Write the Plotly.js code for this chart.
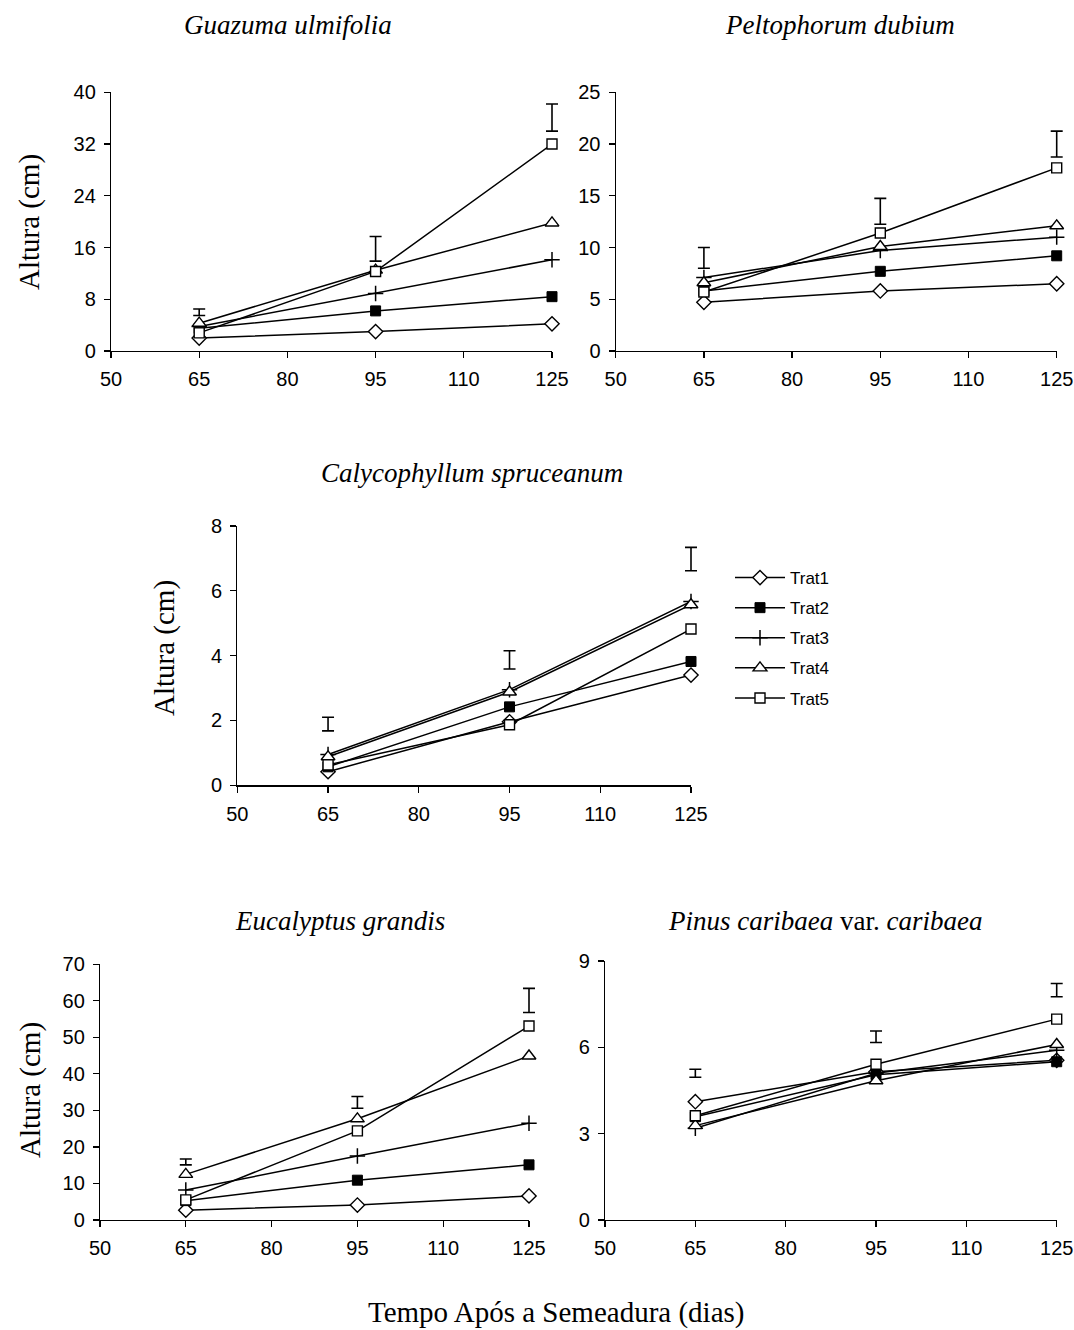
<!DOCTYPE html>
<html>
<head>
<meta charset="utf-8">
<script src="https://cdn.plot.ly/plotly-3.0.1.min.js"></script>
<style>html,body{margin:0;padding:0;background:#fff;} #chart{width:1074px;height:1330px;}</style>
</head>
<body>
<div id="chart"></div>
<script>
// ---- data ----
const days = [65, 95, 125];
const treatNames = ['Trat1', 'Trat2', 'Trat3', 'Trat4', 'Trat5'];
const xTicks = [50, 65, 80, 95, 110, 125];

// Guazuma ulmifolia
const guaT1 = [2.0, 3.0, 4.2];
const guaT2 = [3.5, 6.2, 8.4];
const guaT3 = [3.8, 8.9, 14.1];
const guaT4 = [4.3, 12.5, 19.8];
const guaT5 = [2.8, 12.3, 32.0];
const guaBarMid = [6.0, 15.8, 36.1];
const guaBarHalf = [0.5, 1.9, 2.1];

// Peltophorum dubium
const pelT1 = [4.7, 5.8, 6.5];
const pelT2 = [5.8, 7.7, 9.2];
const pelT3 = [7.1, 9.7, 11.0];
const pelT4 = [6.6, 10.1, 12.1];
const pelT5 = [5.7, 11.4, 17.7];
const pelBarMid = [9.0, 13.5, 20.0];
const pelBarHalf = [1.0, 1.25, 1.25];

// Calycophyllum spruceanum
const calT1 = [0.42, 1.96, 3.40];
const calT2 = [0.57, 2.42, 3.82];
const calT3 = [0.95, 2.95, 5.67];
const calT4 = [0.88, 2.88, 5.57];
const calT5 = [0.63, 1.87, 4.82];
const calBarMid = [1.89, 3.87, 6.98];
const calBarHalf = [0.21, 0.28, 0.36];

// Eucalyptus grandis
const eucT1 = [2.7, 4.1, 6.6];
const eucT2 = [5.3, 10.9, 15.1];
const eucT3 = [8.2, 17.5, 26.5];
const eucT4 = [12.5, 27.7, 44.9];
const eucT5 = [5.5, 24.4, 53.1];
const eucBarMid = [15.9, 32.2, 60.1];
const eucBarHalf = [0.8, 1.6, 3.3];

// Pinus caribaea var. caribaea
const pinT1 = [4.11, 5.15, 5.55];
const pinT2 = [3.59, 5.05, 5.50];
const pinT3 = [3.19, 5.10, 5.90];
const pinT4 = [3.28, 4.84, 6.10];
const pinT5 = [3.62, 5.41, 6.98];
const pinBarMid = [5.10, 6.37, 7.99];
const pinBarHalf = [0.14, 0.20, 0.23];

// ---- styles ----
const markerStyles = [
  {symbol: 'diamond', size: 11, color: '#fff', line: {color: '#000', width: 1.4}},
  {symbol: 'square', size: 10, color: '#000', line: {color: '#000', width: 1}},
  {symbol: 'cross-thin', size: 11, color: '#000', line: {color: '#000', width: 1.5}},
  {symbol: 'triangle-up', size: 12, color: '#fff', line: {color: '#000', width: 1.4}},
  {symbol: 'square', size: 10, color: '#fff', line: {color: '#000', width: 1.4}}
];

const panels = [
  {series: [guaT1, guaT2, guaT3, guaT4, guaT5], mid: guaBarMid, half: guaBarHalf,
   yrange: [0, 40], dtick: 8, xdom: [111, 552], ydom: [92.3, 351]},
  {series: [pelT1, pelT2, pelT3, pelT4, pelT5], mid: pelBarMid, half: pelBarHalf,
   yrange: [0, 25], dtick: 5, xdom: [615.7, 1056.7], ydom: [92.3, 351]},
  {series: [calT1, calT2, calT3, calT4, calT5], mid: calBarMid, half: calBarHalf,
   yrange: [0, 8], dtick: 2, xdom: [237.3, 691], ydom: [526, 785.3]},
  {series: [eucT1, eucT2, eucT3, eucT4, eucT5], mid: eucBarMid, half: eucBarHalf,
   yrange: [0, 70], dtick: 10, xdom: [100, 529], ydom: [964.3, 1220]},
  {series: [pinT1, pinT2, pinT3, pinT4, pinT5], mid: pinBarMid, half: pinBarHalf,
   yrange: [0, 9], dtick: 3, xdom: [605, 1056.7], ydom: [961, 1220]}
];

const W = 1074, H = 1330;
const XMIN = 50, XMAX = 125, EXTRA_PX = 14;
const traces = [];
const layout = {
  width: W, height: H,
  margin: {l: 0, r: 0, t: 0, b: 0},
  paper_bgcolor: '#fff', plot_bgcolor: 'rgba(0,0,0,0)',
  showlegend: true,
  legend: {
    x: 730 / W, y: 1 - 560 / H, xanchor: 'left', yanchor: 'top',
    font: {family: 'Liberation Sans, Arial, sans-serif', size: 17, color: '#000'},
    bgcolor: 'rgba(0,0,0,0)', traceorder: 'grouped', tracegroupgap: 5, itemwidth: 50
  },
  annotations: [],
  font: {family: 'Liberation Sans, Arial, sans-serif', color: '#000'}
};

const tickFont = {family: 'Liberation Sans, Arial, sans-serif', size: 20, color: '#000'};

panels.forEach((p, i) => {
  const n = i + 1;
  const xa = 'x' + n, ya = 'y' + n;
  const xdom = [p.xdom[0] / W, p.xdom[1] / W];
  const ydom = [1 - p.ydom[1] / H, 1 - p.ydom[0] / H];
  p.series.forEach((vals, k) => {
    traces.push({
      type: 'scatter', mode: 'lines+markers', x: days, y: vals,
      xaxis: xa, yaxis: ya, name: treatNames[k], legendgroup: treatNames[k],
      showlegend: i === 2,
      line: {color: '#000', width: 1.5},
      marker: markerStyles[k], cliponaxis: false
    });
  });
  // hidden axis pair (slightly wider to the right) so the error bars at day 125 are not clipped
  const pxPerUnit = (p.xdom[1] - p.xdom[0]) / (XMAX - XMIN);
  const eN = n + 10;
  traces.push({
    type: 'scatter', mode: 'markers', x: days, y: p.mid, xaxis: 'x' + eN, yaxis: 'y' + eN,
    showlegend: false, hoverinfo: 'skip', cliponaxis: false,
    marker: {size: 1, opacity: 0},
    error_y: {type: 'data', array: p.half, visible: true, width: 6, thickness: 1.6, color: '#000'}
  });
  layout['xaxis' + eN] = {
    domain: [p.xdom[0] / W, (p.xdom[1] + EXTRA_PX) / W],
    range: [XMIN, XMAX + EXTRA_PX / pxPerUnit], anchor: 'y' + eN, visible: false, fixedrange: true
  };
  layout['yaxis' + eN] = {
    domain: ydom, range: p.yrange, anchor: 'x' + eN, visible: false, fixedrange: true
  };

  const xBase = {
    domain: xdom, range: [XMIN, XMAX], tickvals: xTicks, anchor: ya,
    showgrid: false, zeroline: false, fixedrange: true
  };
  const yBase = {
    domain: ydom, range: p.yrange, dtick: p.dtick, tick0: 0, anchor: xa,
    showgrid: false, zeroline: false, fixedrange: true
  };
  layout['xaxis' + n] = Object.assign({}, xBase, {
    showline: true, linecolor: '#000', linewidth: 1.2,
    ticks: 'outside', ticklen: 6, tickwidth: 1.2, tickcolor: '#000',
    tickfont: tickFont, ticklabelstandoff: 4
  });
  layout['yaxis' + n] = Object.assign({}, yBase, {
    showline: true, linecolor: '#000', linewidth: 1.2,
    ticks: 'outside', ticklen: 6, tickwidth: 1.2, tickcolor: '#000',
    tickfont: tickFont, ticklabelstandoff: 4
  });
  // overlay axes to create crossing tick marks
  layout['xaxis' + (n + 5)] = Object.assign({}, xBase, {
    overlaying: xa, showline: false, ticks: 'inside', ticklen: 4, tickwidth: 1.2,
    tickcolor: '#000', showticklabels: false
  });
  layout['yaxis' + (n + 5)] = Object.assign({}, yBase, {
    overlaying: ya, showline: false, ticks: 'inside', ticklen: 4, tickwidth: 1.2,
    tickcolor: '#000', showticklabels: false
  });
});

const serif = 'Liberation Serif, Times New Roman, serif';
function ann(text, px, py, size, angle) {
  layout.annotations.push({
    text: text, x: px / W, y: 1 - py / H, xref: 'paper', yref: 'paper',
    xanchor: 'center', yanchor: 'middle', showarrow: false, textangle: angle || 0,
    font: {family: serif, size: size, color: '#000'}
  });
}
ann('<i>Guazuma ulmifolia</i>', 288, 25, 27);
ann('<i>Peltophorum dubium</i>', 840, 25, 27);
ann('<i>Calycophyllum spruceanum</i>', 472, 473, 27);
ann('<i>Eucalyptus grandis</i>', 340, 921, 27);
ann('<i>Pinus caribaea</i> var. <i>caribaea</i>', 825, 921, 27);
ann('Altura (cm)', 30, 222, 29, -90);
ann('Altura (cm)', 165, 648, 29, -90);
ann('Altura (cm)', 30, 1090, 29, -90);
ann('Tempo Após a Semeadura (dias)', 556, 1312, 29);

Plotly.newPlot('chart', traces, layout, {staticPlot: true, displayModeBar: false});
</script>
</body>
</html>
